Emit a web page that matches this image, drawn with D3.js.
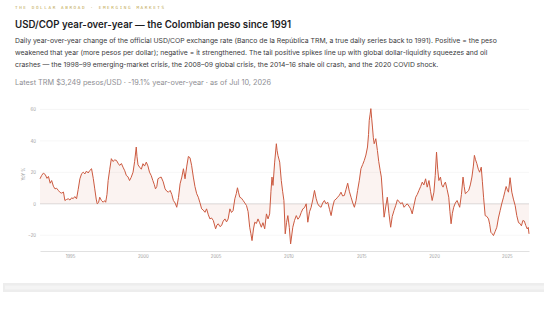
<!DOCTYPE html>
<html>
<head>
<meta charset="utf-8">
<script src="https://cdn.jsdelivr.net/npm/d3@7"></script>
<style>
  body { margin: 0; background: #fff; font-family: Inter, "Noto Sans", sans-serif; }
  svg { display: block; }
</style>
</head>
<body>
<svg id="chart"></svg>
<script>
// decimal year and YoY % change of USD/COP
var years = [
  1992.94, 1993.05, 1993.17, 1993.3, 1993.42, 1993.52, 1993.64, 1993.74, 1993.86, 1993.97,
  1994.08, 1994.2, 1994.32, 1994.43, 1994.55, 1994.65, 1994.77, 1994.88, 1995.0, 1995.11,
  1995.22, 1995.33, 1995.45, 1995.56, 1995.68, 1995.8, 1995.91, 1996.02, 1996.13, 1996.25,
  1996.36, 1996.48, 1996.6, 1996.7, 1996.8, 1996.87, 1996.96, 1997.04, 1997.16, 1997.28,
  1997.38, 1997.45, 1997.54, 1997.62, 1997.73, 1997.84, 1997.95, 1998.07, 1998.19, 1998.3,
  1998.41, 1998.53, 1998.64, 1998.76, 1998.87, 1998.98, 1999.09, 1999.2, 1999.33, 1999.44,
  1999.55, 1999.6, 1999.67, 1999.78, 1999.9, 2000.01, 2000.12, 2000.24, 2000.35, 2000.46,
  2000.58, 2000.69, 2000.79, 2000.87, 2000.96, 2001.04, 2001.15, 2001.26, 2001.4, 2001.53,
  2001.65, 2001.76, 2001.88, 2001.99, 2002.1, 2002.22, 2002.33, 2002.45, 2002.56, 2002.68,
  2002.79, 2002.9, 2003.02, 2003.13, 2003.24, 2003.35, 2003.47, 2003.58, 2003.7, 2003.81,
  2003.92, 2004.04, 2004.15, 2004.27, 2004.38, 2004.5, 2004.61, 2004.72, 2004.84, 2005.0,
  2005.09, 2005.18, 2005.3, 2005.41, 2005.52, 2005.64, 2005.75, 2005.86, 2005.98, 2006.09,
  2006.2, 2006.32, 2006.42, 2006.5, 2006.58, 2006.66, 2006.77, 2006.89, 2007.0, 2007.12,
  2007.23, 2007.34, 2007.42, 2007.5, 2007.6, 2007.69, 2007.8, 2007.91, 2008.02, 2008.14,
  2008.25, 2008.37, 2008.49, 2008.6, 2008.71, 2008.8, 2008.87, 2008.94, 2009.05, 2009.17,
  2009.22, 2009.28, 2009.4, 2009.51, 2009.6, 2009.69, 2009.78, 2009.87, 2009.96, 2010.06,
  2010.15, 2010.3, 2010.42, 2010.54, 2010.65, 2010.76, 2010.88, 2010.99, 2011.1, 2011.22,
  2011.33, 2011.45, 2011.56, 2011.68, 2011.79, 2011.9, 2012.01, 2012.12, 2012.24, 2012.35,
  2012.47, 2012.58, 2012.7, 2012.82, 2012.93, 2013.04, 2013.15, 2013.27, 2013.38, 2013.5,
  2013.61, 2013.72, 2013.84, 2013.95, 2014.07, 2014.18, 2014.3, 2014.42, 2014.53, 2014.64,
  2014.75, 2014.87, 2014.98, 2015.1, 2015.21, 2015.32, 2015.43, 2015.5, 2015.55, 2015.61,
  2015.66, 2015.72, 2015.77, 2015.83, 2015.89, 2016.0, 2016.11, 2016.2, 2016.3, 2016.38,
  2016.47, 2016.57, 2016.68, 2016.79, 2016.9, 2017.02, 2017.13, 2017.25, 2017.37, 2017.48,
  2017.6, 2017.71, 2017.82, 2017.94, 2018.05, 2018.16, 2018.28, 2018.39, 2018.5, 2018.62,
  2018.74, 2018.85, 2018.96, 2019.08, 2019.19, 2019.3, 2019.42, 2019.53, 2019.65, 2019.76,
  2019.87, 2019.99, 2020.08, 2020.17, 2020.25, 2020.33, 2020.44, 2020.53, 2020.62, 2020.7,
  2020.78, 2020.9, 2021.01, 2021.09, 2021.17, 2021.26, 2021.35, 2021.46, 2021.58, 2021.67,
  2021.76, 2021.88, 2021.99, 2022.07, 2022.15, 2022.27, 2022.38, 2022.49, 2022.6, 2022.7,
  2022.77, 2022.85, 2022.94, 2023.04, 2023.13, 2023.24, 2023.32, 2023.4, 2023.51, 2023.62,
  2023.74, 2023.82, 2023.9, 2023.99, 2024.08, 2024.2, 2024.31, 2024.42, 2024.54, 2024.66,
  2024.77, 2024.87, 2024.95, 2025.03, 2025.11, 2025.22, 2025.34, 2025.45, 2025.57, 2025.68,
  2025.8, 2025.9, 2026.0, 2026.1, 2026.2, 2026.3, 2026.4, 2026.47, 2026.52
];
var yoy = [
  15.9, 18.0, 19.5, 18.6, 16.2, 17.4, 13.1, 14.8, 11.2, 9.5,
  9.9, 8.5, 7.2, 6.8, 7.5, 2.1, 2.8, 3.2, 2.4, 3.8,
  3.3, 4.6, 3.2, 9.0, 15.9, 19.2, 20.1, 19.0, 20.8, 19.6,
  21.2, 22.3, 16.0, 9.5, 3.0, 0.0, 0.8, 4.2, 2.1, 1.0,
  2.0, 1.0, 6.0, 14.8, 22.0, 28.7, 26.9, 27.9, 27.6, 25.8,
  24.4, 25.6, 23.3, 21.0, 18.0, 17.2, 14.8, 16.8, 20.1, 27.0,
  36.1, 30.0, 24.8, 23.3, 22.0, 25.5, 24.0, 26.5, 24.1, 20.1,
  17.9, 14.8, 12.2, 9.5, 11.0, 15.9, 16.6, 17.0, 14.0, 9.5,
  8.0, 7.4, 8.5, 6.0, 2.1, 0.5, -2.2, 4.0, 12.7, 17.0,
  22.3, 15.9, 24.0, 30.1, 29.3, 24.5, 17.0, 11.0, 6.4, 4.2,
  0.8, -3.2, -4.0, -5.4, -3.2, -7.0, -9.6, -9.0, -10.6, -15.9,
  -13.5, -12.7, -14.5, -13.8, -11.0, -9.6, -11.5, -9.6, -3.2, -5.5,
  -4.3, 3.2, 6.5, 10.2, 7.0, 4.2, 3.6, 2.1, 0.6, -1.1,
  -5.0, -14.9, -19.0, -23.4, -16.0, -11.7, -12.5, -9.6, -12.0, -14.9,
  -12.0, -15.9, -6.4, -9.6, -6.4, 8.0, 17.0, 11.7, 26.0, 38.2,
  34.0, 30.8, 26.5, 14.8, 8.0, 2.1, -19.1, -12.0, -7.5, -15.0,
  -25.5, -14.9, -10.5, -7.5, -9.8, -8.5, -5.5, -3.2, -2.5, 0.0,
  -11.7, -5.0, -2.2, 3.0, 8.5, 3.5, 0.0, -1.5, -2.2, 0.5,
  2.1, 0.0, 1.0, -3.5, -7.5, -2.0, 2.1, 3.0, 4.2, 5.5,
  7.4, 5.0, 5.3, 9.0, 13.1, 8.0, 4.2, 0.5, -2.2, 2.0,
  8.5, 15.0, 22.3, 25.0, 27.6, 31.0, 36.1, 44.0, 53.1, 57.0,
  60.5, 54.0, 48.8, 42.0, 38.2, 41.4, 33.9, 27.0, 21.2, 17.0,
  5.0, -8.5, -2.0, 4.2, -6.0, -14.9, -8.0, -4.3, -1.0, 2.5,
  1.5, 0.0, 0.8, -2.2, -1.0, 0.0, -1.5, -3.2, -6.4, -1.0,
  4.2, 6.0, 8.5, 11.0, 13.8, 12.0, 15.9, 10.6, 14.8, 8.0,
  2.1, 7.4, 18.0, 32.9, 22.0, 14.8, 17.0, 12.0, 10.6, 12.5,
  13.8, 9.0, 4.2, -5.0, -12.7, -6.0, -2.2, 0.5, 2.1, 0.0,
  -2.2, 6.0, 17.0, 11.0, 6.4, 7.5, 8.5, 12.0, 17.0, 24.0,
  30.8, 28.0, 25.5, 22.0, 20.1, 23.3, 14.0, 4.2, -7.5, -8.0,
  -9.6, -13.0, -18.1, -19.0, -20.2, -17.5, -14.9, -9.0, -4.3, 0.5,
  4.2, 8.0, 11.0, 9.0, 7.4, 16.6, 7.4, 3.0, -1.1, -7.5,
  -12.0, -12.5, -14.0, -10.6, -11.0, -13.8, -16.0, -15.0, -19.1
];
var yTicks = [-20, 0, 20, 40, 60];
var xTicks = [1995, 2000, 2005, 2010, 2015, 2020, 2025];

var kicker = "THE DOLLAR ABROAD · EMERGING MARKETS";
var title = "USD/COP year-over-year — the Colombian peso since 1991";
var deck = [
  "Daily year-over-year change of the official USD/COP exchange rate (Banco de la República TRM, a true daily series back to 1991). Positive = the peso",
  "weakened that year (more pesos per dollar); negative = it strengthened. The tail positive spikes line up with global dollar-liquidity squeezes and oil",
  "crashes — the 1998–99 emerging-market crisis, the 2008–09 global crisis, the 2014–16 shale oil crash, and the 2020 COVID shock."
];
var latest = "Latest TRM $3,249 pesos/USD · -19.1% year-over-year · as of Jul 10, 2026";

var width = 544;
var height = 309;
var values = years.map((y, i) => ({ year: y, v: yoy[i] }));

var svg = d3.select("#chart").attr("width", width).attr("height", height);

// header texts
svg.append("text")
  .attr("x", 15).attr("y", 9)
  .attr("font-family", "DejaVu Sans Mono, monospace")
  .attr("font-size", 4.3).attr("letter-spacing", 1.6)
  .attr("fill", "#c2ab57")
  .text(kicker);

svg.append("text")
  .attr("x", 15).attr("y", 28)
  .attr("font-size", 9.7).attr("font-weight", 600)
  .attr("fill", "#1d1d1f")
  .text(title);

svg.selectAll(".deck")
  .data(deck)
  .enter()
  .append("text")
  .attr("class", "deck")
  .attr("x", 15)
  .attr("y", (d, i) => 42.5 + i * 12.2)
  .attr("font-size", 6.85)
  .attr("fill", "#3a3a3c")
  .text((d) => d);

svg.append("text")
  .attr("x", 15).attr("y", 84.5)
  .attr("font-size", 7.3)
  .attr("fill", "#8e8e93")
  .text(latest);

// scales
var xScale = d3.scaleLinear().domain([1992.94, 2026.52]).range([40, 529]);
var yScale = d3.scaleLinear().domain([-30, 66]).range([251, 100]);

// grid
svg.append("g")
  .selectAll("line")
  .data(yTicks)
  .enter()
  .append("line")
  .attr("x1", 40).attr("x2", 529)
  .attr("y1", (d) => yScale(d)).attr("y2", (d) => yScale(d))
  .attr("stroke", (d) => (d == 0 ? "#d6d6d6" : "#f0f0f0"))
  .attr("stroke-width", (d) => (d == 0 ? 0.8 : 0.6));

var yAxis = d3.axisLeft(yScale).tickValues(yTicks).tickSize(0).tickPadding(4);
svg.append("g")
  .attr("transform", "translate(40, 0)")
  .call(yAxis)
  .call((g) => g.select(".domain").remove())
  .call((g) => g.selectAll("text").attr("font-size", 4.3).attr("fill", "#9a9a9a").attr("font-family", "Inter, sans-serif"));

var xAxis = d3.axisBottom(xScale).tickValues(xTicks).tickFormat(d3.format("d")).tickSize(0).tickPadding(4);
svg.append("g")
  .attr("transform", "translate(0, 251)")
  .call(xAxis)
  .call((g) => g.select(".domain").attr("stroke", "#d9d9d9").attr("stroke-width", 0.8))
  .call((g) => g.selectAll("text").attr("font-size", 4.3).attr("fill", "#9a9a9a").attr("font-family", "Inter, sans-serif"));

svg.append("text")
  .attr("transform", "translate(25, 174) rotate(-90)")
  .attr("text-anchor", "middle")
  .attr("font-size", 4.3)
  .attr("fill", "#9a9a9a")
  .text("YoY %");

// area to zero + line
var area = d3.area()
  .x((d) => xScale(d.year))
  .y0(yScale(0))
  .y1((d) => yScale(d.v));

svg.append("path")
  .datum(values)
  .attr("d", area)
  .attr("fill", "#c8553d")
  .attr("fill-opacity", 0.07);

var line = d3.line()
  .x((d) => xScale(d.year))
  .y((d) => yScale(d.v));

svg.append("path")
  .datum(values)
  .attr("d", line)
  .attr("fill", "none")
  .attr("stroke", "#cc5a40")
  .attr("stroke-width", 1)
  .attr("stroke-linejoin", "round");

// footer band
svg.append("rect")
  .attr("x", 3).attr("y", 283)
  .attr("width", 541).attr("height", 9)
  .attr("fill", "#ededed");
svg.append("rect")
  .attr("x", 5).attr("y", 285.5)
  .attr("width", 539).attr("height", 4)
  .attr("fill", "#f4f4f4");
</script>
</body>
</html>
